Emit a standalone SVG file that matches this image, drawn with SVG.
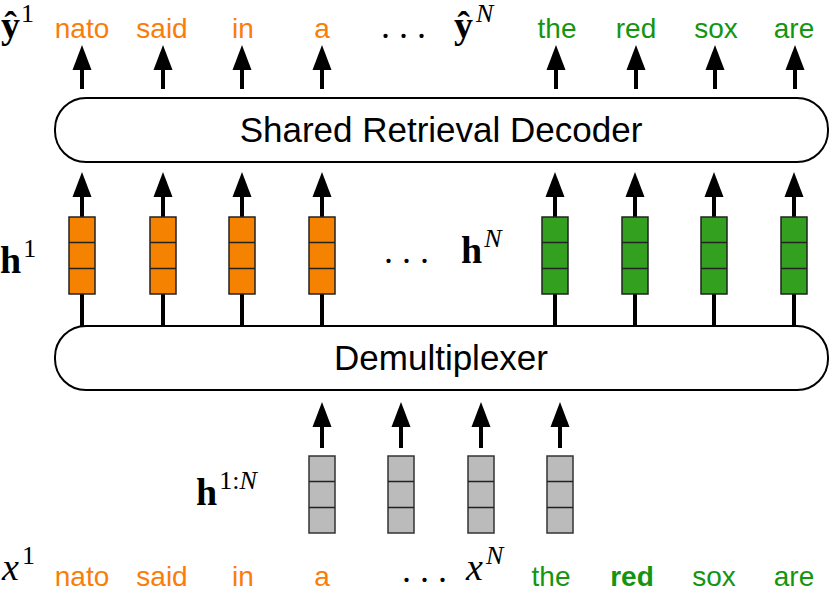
<svg xmlns="http://www.w3.org/2000/svg" width="830" height="607" viewBox="0 0 830 607">
<defs>
<style>
.w{font-family:"Liberation Sans",Arial,sans-serif;font-size:28px;text-anchor:middle}
.o{fill:#fa7d0a}
.g{fill:#129612}
.m{font-family:"Liberation Serif","DejaVu Serif",serif;fill:#000;font-size:38px}
.sup{font-size:26px;font-weight:normal}
.dots{font-family:"Liberation Serif","DejaVu Serif",serif;font-size:36px;letter-spacing:9px;fill:#000}
.big{font-family:"Liberation Sans",Arial,sans-serif;font-size:35px;text-anchor:middle;fill:#000}
.shaft{stroke:#000;stroke-width:4}
.bar{fill:#fff;stroke:#000;stroke-width:2}
</style>
<polygon id="ah" points="0,0 -9.5,25 9.5,25" fill="#000"/>
<g id="vec">
<rect x="-13" y="0" width="26" height="77"/>
<line x1="-13" y1="25.5" x2="13" y2="25.5" stroke="#222" stroke-width="1.5"/>
<line x1="-13" y1="51.5" x2="13" y2="51.5" stroke="#222" stroke-width="1.5"/>
</g>
</defs>
<rect width="830" height="607" fill="#fff"/>

<g id="connectors">
<g>
<line class="shaft" x1="82" y1="65" x2="82" y2="89"/><use href="#ah" x="82" y="45"/>
<line class="shaft" x1="163" y1="65" x2="163" y2="89"/><use href="#ah" x="163" y="45"/>
<line class="shaft" x1="242" y1="65" x2="242" y2="89"/><use href="#ah" x="242" y="45"/>
<line class="shaft" x1="322" y1="65" x2="322" y2="89"/><use href="#ah" x="322" y="45"/>
<line class="shaft" x1="556" y1="65" x2="556" y2="89"/><use href="#ah" x="556" y="45"/>
<line class="shaft" x1="636" y1="65" x2="636" y2="89"/><use href="#ah" x="636" y="45"/>
<line class="shaft" x1="715" y1="65" x2="715" y2="89"/><use href="#ah" x="715" y="45"/>
<line class="shaft" x1="795" y1="65" x2="795" y2="89"/><use href="#ah" x="795" y="45"/>
</g>
<g>
<line class="shaft" x1="82" y1="192" x2="82" y2="326"/><use href="#ah" x="82" y="172"/>
<line class="shaft" x1="163" y1="192" x2="163" y2="326"/><use href="#ah" x="163" y="172"/>
<line class="shaft" x1="242" y1="192" x2="242" y2="326"/><use href="#ah" x="242" y="172"/>
<line class="shaft" x1="322" y1="192" x2="322" y2="326"/><use href="#ah" x="322" y="172"/>
<line class="shaft" x1="555" y1="192" x2="555" y2="326"/><use href="#ah" x="555" y="172"/>
<line class="shaft" x1="635" y1="192" x2="635" y2="326"/><use href="#ah" x="635" y="172"/>
<line class="shaft" x1="714" y1="192" x2="714" y2="326"/><use href="#ah" x="714" y="172"/>
<line class="shaft" x1="794" y1="192" x2="794" y2="326"/><use href="#ah" x="794" y="172"/>
</g>
<g>
<line class="shaft" x1="322" y1="422" x2="322" y2="448"/><use href="#ah" x="322" y="402"/>
<line class="shaft" x1="401" y1="422" x2="401" y2="448"/><use href="#ah" x="401" y="402"/>
<line class="shaft" x1="481" y1="422" x2="481" y2="448"/><use href="#ah" x="481" y="402"/>
<line class="shaft" x1="560" y1="422" x2="560" y2="448"/><use href="#ah" x="560" y="402"/>
</g>
</g>

<g id="decoder">
<rect class="bar" x="55" y="98" width="773" height="64" rx="31" ry="31"/>
<text class="big" x="441" y="142">Shared Retrieval Decoder</text>
</g>

<g id="demultiplexer">
<rect class="bar" x="55" y="326" width="773" height="64" rx="31" ry="31"/>
<text class="big" x="441" y="370">Demultiplexer</text>
</g>

<g id="h1-vectors">
<use href="#vec" x="82" y="217" fill="#f58200" stroke="#222" stroke-width="1.5"/>
<use href="#vec" x="163" y="217" fill="#f58200" stroke="#222" stroke-width="1.5"/>
<use href="#vec" x="242" y="217" fill="#f58200" stroke="#222" stroke-width="1.5"/>
<use href="#vec" x="322" y="217" fill="#f58200" stroke="#222" stroke-width="1.5"/>
</g>
<g id="hN-vectors">
<use href="#vec" x="555" y="217" fill="#33a020" stroke="#222" stroke-width="1.5"/>
<use href="#vec" x="635" y="217" fill="#33a020" stroke="#222" stroke-width="1.5"/>
<use href="#vec" x="714" y="217" fill="#33a020" stroke="#222" stroke-width="1.5"/>
<use href="#vec" x="794" y="217" fill="#33a020" stroke="#222" stroke-width="1.5"/>
</g>
<g id="h1N-vectors">
<use href="#vec" x="322" y="456" fill="#bbbbbb" stroke="#333" stroke-width="1.5"/>
<use href="#vec" x="401" y="456" fill="#bbbbbb" stroke="#333" stroke-width="1.5"/>
<use href="#vec" x="481" y="456" fill="#bbbbbb" stroke="#333" stroke-width="1.5"/>
<use href="#vec" x="560" y="456" fill="#bbbbbb" stroke="#333" stroke-width="1.5"/>
</g>

<g id="output-words">
<text class="m" x="1" y="38" font-weight="bold">ŷ<tspan class="sup" dx="1" dy="-16">1</tspan></text>
<text class="w o" x="82" y="38">nato</text>
<text class="w o" x="162" y="38">said</text>
<text class="w o" x="243" y="38">in</text>
<text class="w o" x="322" y="38">a</text>
<text class="dots" x="381" y="38">...</text>
<text class="m" x="454" y="38" font-weight="bold">ŷ<tspan class="sup" font-style="italic" dx="3" dy="-16">N</tspan></text>
<text class="w g" x="557" y="38">the</text>
<text class="w g" x="636" y="38">red</text>
<text class="w g" x="716" y="38">sox</text>
<text class="w g" x="794" y="38">are</text>
</g>

<g id="hidden-labels">
<text class="m" x="0" y="273" font-weight="bold">h<tspan class="sup" dx="2" dy="-16">1</tspan></text>
<text class="dots" x="384" y="263">...</text>
<text class="m" x="461" y="263" font-weight="bold">h<tspan class="sup" font-style="italic" dx="2" dy="-16">N</tspan></text>
<text class="m" x="196" y="505" font-weight="bold">h<tspan class="sup" dx="2" dy="-16">1:<tspan font-style="italic">N</tspan></tspan></text>
</g>

<g id="input-words">
<text class="m" x="2" y="580" font-style="italic">x<tspan class="sup" font-style="normal" dx="3" dy="-16">1</tspan></text>
<text class="w o" x="82" y="586">nato</text>
<text class="w o" x="162" y="586">said</text>
<text class="w o" x="243" y="586">in</text>
<text class="w o" x="322" y="586">a</text>
<text class="dots" x="402" y="582">...</text>
<text class="m" x="466" y="580" font-style="italic">x<tspan class="sup" dx="3" dy="-16">N</tspan></text>
<text class="w g" x="551" y="586">the</text>
<text class="w g" x="632" y="586" font-weight="bold">red</text>
<text class="w g" x="714" y="586">sox</text>
<text class="w g" x="794" y="586">are</text>
</g>
</svg>
